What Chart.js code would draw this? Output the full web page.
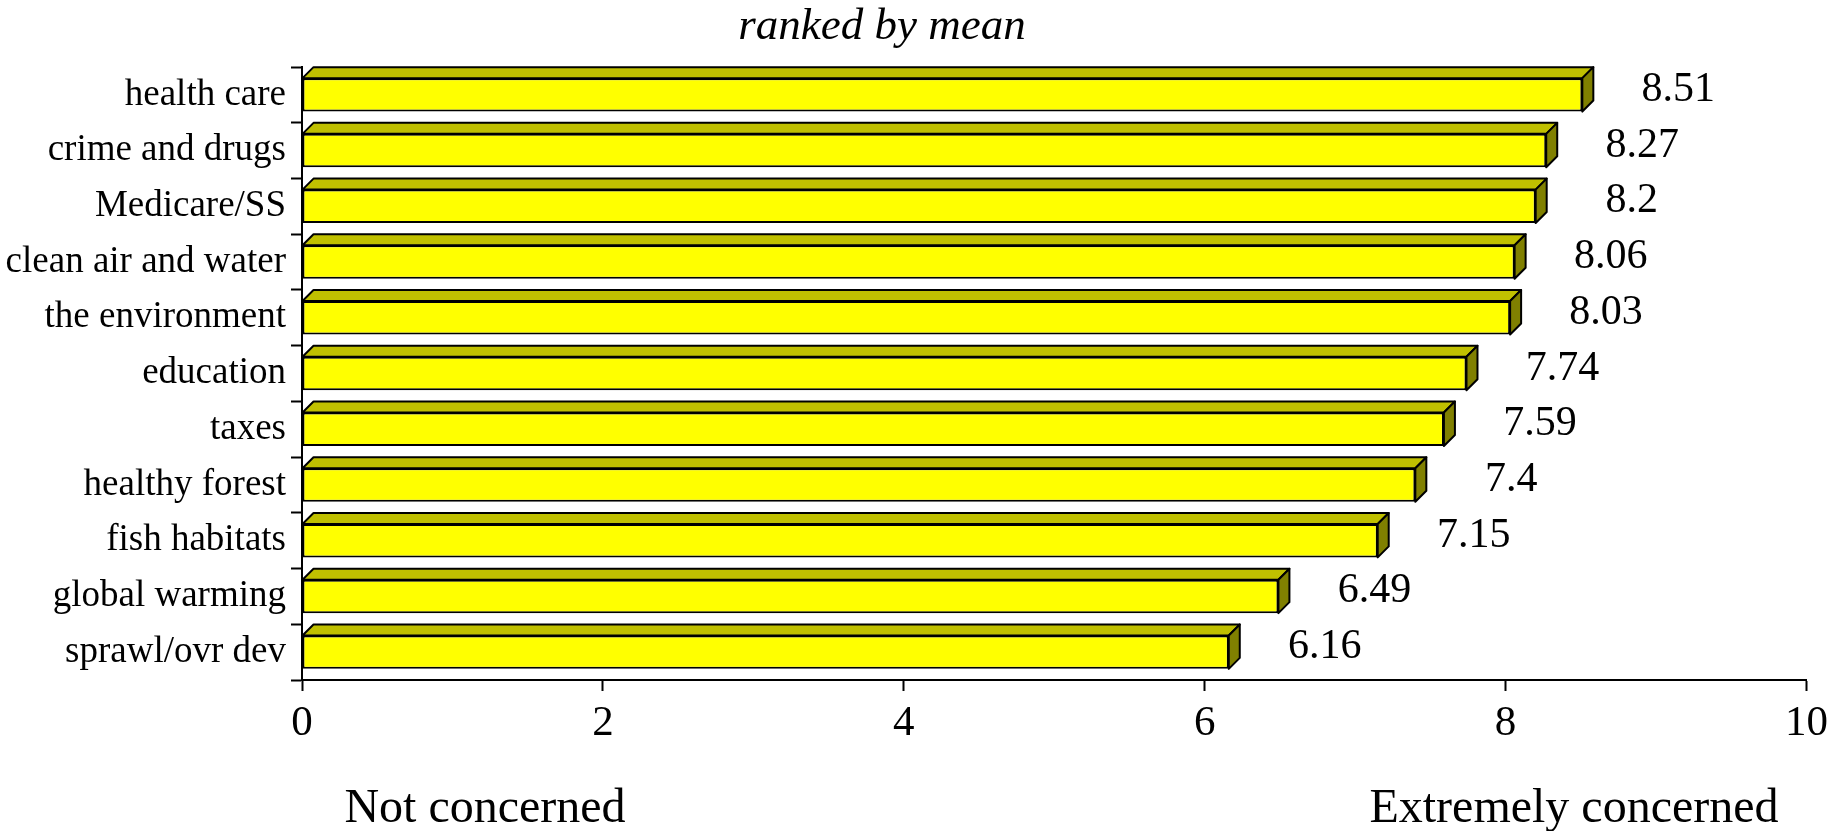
<!DOCTYPE html>
<html>
<head>
<meta charset="utf-8">
<script src="https://cdn.jsdelivr.net/npm/chart.js@4"></script>
<style>
  html, body { margin: 0; padding: 0; background: #ffffff; }
  canvas { display: block; }
</style>
</head>
<body>
<canvas id="c" width="1835" height="831"></canvas>
<script>
const categories = ['health care', 'crime and drugs', 'Medicare/SS', 'clean air and water', 'the environment', 'education', 'taxes', 'healthy forest', 'fish habitats', 'global warming', 'sprawl/ovr dev'];
const meanValues = [8.51, 8.27, 8.2, 8.06, 8.03, 7.74, 7.59, 7.4, 7.15, 6.49, 6.16];
const xMin = 0;
const xMax = 10;
const xStep = 2;
const titleText = 'ranked by mean';
const leftNote = 'Not concerned';
const rightNote = 'Extremely concerned';

const SERIF = '"Liberation Serif", "Times New Roman", serif';
Chart.defaults.color = '#000000';
Chart.defaults.font.family = SERIF;

const bar3d = {
  id: 'bar3d',
  afterDatasetsDraw(chart) {
    const ctx = chart.ctx;
    const meta = chart.getDatasetMeta(0);
    const dx = 11, dy = 11;
    ctx.save();
    ctx.lineWidth = 2;
    ctx.strokeStyle = '#000000';
    ctx.lineJoin = 'round';
    meta.data.forEach((el, i) => {
      const p = el.getProps(['x', 'y', 'base', 'height'], true);
      const top = p.y - p.height / 2;
      const bottom = p.y + p.height / 2;
      const x0 = p.base, x1 = p.x;
      // top face
      ctx.beginPath();
      ctx.moveTo(x0, top);
      ctx.lineTo(x0 + dx, top - dy);
      ctx.lineTo(x1 + dx, top - dy);
      ctx.lineTo(x1, top);
      ctx.closePath();
      ctx.fillStyle = '#C0C000';
      ctx.fill();
      ctx.stroke();
      // side face
      ctx.beginPath();
      ctx.moveTo(x1, top);
      ctx.lineTo(x1 + dx, top - dy);
      ctx.lineTo(x1 + dx, bottom - dy);
      ctx.lineTo(x1, bottom);
      ctx.closePath();
      ctx.fillStyle = '#808000';
      ctx.fill();
      ctx.stroke();
      // value label
      ctx.fillStyle = '#000000';
      ctx.font = '42px ' + SERIF;
      ctx.textAlign = 'center';
      ctx.textBaseline = 'middle';
      ctx.fillText(String(meanValues[i]), x1 + 96, p.y - 5);
    });
    ctx.restore();
  },
  afterDraw(chart) {
    const ctx = chart.ctx;
    ctx.save();
    ctx.fillStyle = '#000000';
    ctx.textAlign = 'center';
    ctx.textBaseline = 'alphabetic';
    ctx.font = 'italic 45px ' + SERIF;
    ctx.fillText(titleText, 882, 39);
    ctx.font = '48px ' + SERIF;
    ctx.fillText(leftNote, 485, 822);
    ctx.fillText(rightNote, 1574, 822);
    ctx.restore();
  }
};

new Chart(document.getElementById('c'), {
  type: 'bar',
  data: {
    labels: categories,
    datasets: [{
      data: meanValues,
      backgroundColor: '#FFFF00',
      borderColor: '#000000',
      borderWidth: 2,
      borderSkipped: false,
      barPercentage: 0.6,
      categoryPercentage: 1.0
    }]
  },
  options: {
    indexAxis: 'y',
    responsive: false,
    animation: false,
    layout: { padding: { top: 67, right: 25, bottom: 0, left: 0 } },
    plugins: {
      legend: { display: false },
      title: { display: false },
      tooltip: { enabled: false }
    },
    scales: {
      x: {
        min: xMin,
        max: xMax,
        afterFit(s) { s.height = 151; },
        ticks: {
          stepSize: xStep,
          font: { size: 43, family: SERIF },
          color: '#000000',
          padding: 7,
          maxRotation: 0
        },
        grid: {
          drawOnChartArea: false,
          drawTicks: true,
          tickLength: 11,
          tickColor: '#000000',
          tickWidth: 2
        },
        border: { display: true, color: '#000000', width: 2 }
      },
      y: {
        afterFit(s) { s.width = 302; },
        ticks: {
          font: { size: 37, family: SERIF },
          color: '#000000',
          padding: 5
        },
        grid: {
          offset: true,
          drawOnChartArea: false,
          drawTicks: true,
          tickLength: 11,
          tickColor: '#000000',
          tickWidth: 2
        },
        border: { display: true, color: '#000000', width: 2 }
      }
    }
  },
  plugins: [bar3d]
});
</script>
</body>
</html>
